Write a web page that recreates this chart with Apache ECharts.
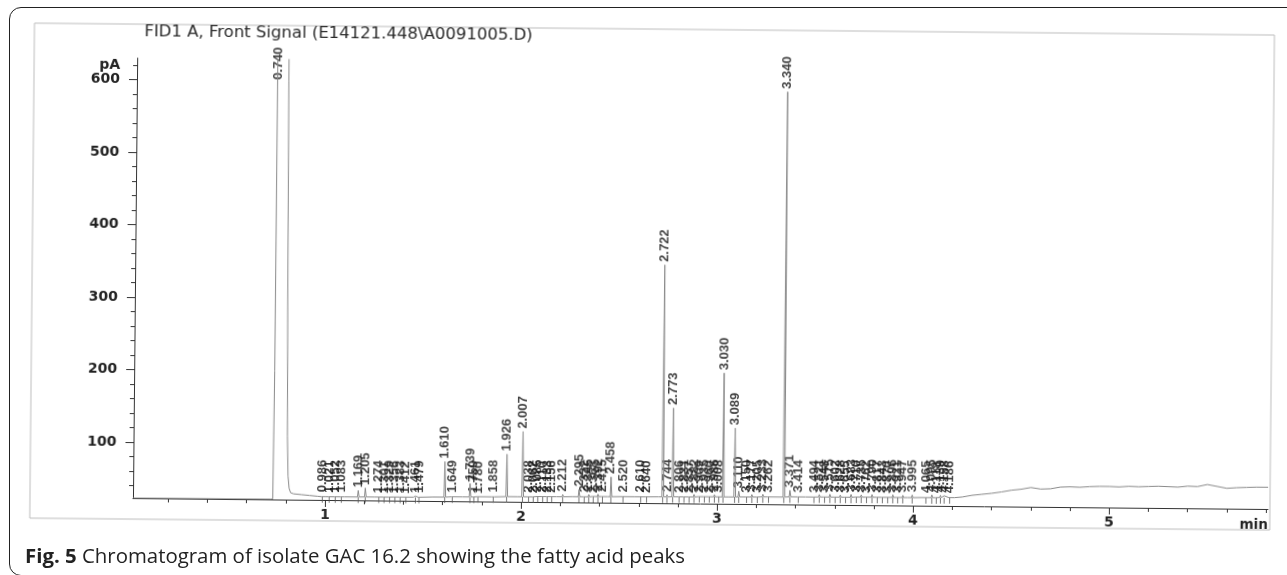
<!DOCTYPE html>
<html><head><meta charset="utf-8">
<script src="https://cdn.jsdelivr.net/npm/echarts@6/dist/echarts.min.js"></script>
<style>
html,body{margin:0;padding:0;background:#fff;width:1287px;height:575px;overflow:hidden;}
#chart{position:absolute;left:0;top:0;width:1287px;height:575px;transform:rotate(0.55deg);transform-origin:643.5px 287.5px;}
#border{position:absolute;left:9px;top:7px;width:1400px;height:567px;border:1.6px solid #222;border-radius:12px;pointer-events:none;}
#caption{position:absolute;left:25px;top:541px;font-family:"Open Sans";font-size:20.4px;color:#222;white-space:nowrap;}
#caption b{font-weight:700;}
</style></head><body>
<div id="chart"></div>
<div id="border"></div>
<div id="caption"><b>Fig. 5</b> Chromatogram of isolate GAC 16.2 showing the fatty acid peaks</div>
<script>
// ---- data ----
const titleText = 'FID1 A, Front Signal (E14121.448\\A0091005.D)';
const yUnit = 'pA';
const xUnit = 'min';
const yLabelValues = [100, 200, 300, 400, 500, 600];
const yMinorTicks = [40, 60, 80, 100, 120, 140, 160, 180, 200, 220, 240, 260, 280, 300, 320, 340, 360, 380, 400, 420, 440, 460, 480, 500, 520, 540, 560, 580, 600, 620];
const xLabelValues = [1, 2, 3, 4, 5];
const xMinorTicks = [0.2, 0.4, 0.6, 0.8, 1.0, 1.2, 1.4, 1.6, 1.8, 2.0, 2.2, 2.4, 2.6, 2.8, 3.0, 3.2, 3.4, 3.6, 3.8, 4.0, 4.2, 4.4, 4.6, 4.8, 5.0, 5.2, 5.4, 5.6, 5.8];

// solvent peak (off scale)
const solventLabelTime = 0.740;
const solventLabelTop = 598;
const solventTimes = [0.733, 0.737, 0.741, 0.787, 0.795, 0.800, 0.805, 0.810, 0.816, 0.824];
const solventValues = [23, 200, 2500, 2500, 600, 300, 110, 55, 38, 32];

// baseline trace between peaks
const baseTimes = [0.02, 0.72, 0.84, 0.88, 0.92, 0.96, 1.00, 1.10, 1.25, 1.45, 1.55, 1.70, 1.85, 1.98, 2.18, 2.26, 2.44, 2.58, 2.70, 2.79, 2.997, 3.06, 3.12, 3.29, 3.45, 3.589, 3.80, 3.97, 4.04, 4.21, 4.25, 4.30, 4.35, 4.40, 4.45, 4.50, 4.55, 4.60, 4.65, 4.70, 4.75, 4.80, 4.85, 4.90, 4.95, 5.00, 5.05, 5.10, 5.15, 5.20, 5.25, 5.30, 5.35, 5.40, 5.45, 5.50, 5.55, 5.60, 5.65, 5.70, 5.75, 5.81];
const baseValues = [22.5, 22.8, 30.5, 29.5, 28.5, 27.5, 27, 27, 27.2, 27.5, 28, 28.5, 29, 29.5, 30, 30.3, 30.8, 31, 31.2, 31.5, 32, 32, 32.2, 32.5, 33, 33.2, 33.5, 33.5, 33.7, 34, 35, 37.5, 39, 40.5, 42.5, 45, 46.5, 49, 47, 47.5, 50, 50.5, 50, 51, 51.5, 51.5, 51, 52, 51.5, 52, 52.5, 52, 51.5, 53, 52.5, 55.5, 53, 50.5, 51.5, 52, 52.5, 52.5];

// integrated peaks: retention time (min) and apex (pA)
const peakTimes = [0.986, 1.021, 1.052, 1.083, 1.169, 1.205, 1.274, 1.301, 1.329, 1.356, 1.383, 1.412, 1.461, 1.479, 1.610, 1.649, 1.739, 1.759, 1.780, 1.858, 1.926, 2.007, 2.038, 2.062, 2.085, 2.110, 2.133, 2.156, 2.212, 2.295, 2.322, 2.345, 2.368, 2.392, 2.415, 2.458, 2.520, 2.610, 2.640, 2.722, 2.744, 2.773, 2.806, 2.831, 2.857, 2.882, 2.909, 2.935, 2.960, 2.986, 3.008, 3.030, 3.089, 3.110, 3.150, 3.177, 3.205, 3.233, 3.262, 3.340, 3.371, 3.414, 3.494, 3.521, 3.548, 3.575, 3.602, 3.628, 3.655, 3.683, 3.710, 3.735, 3.762, 3.790, 3.817, 3.843, 3.870, 3.896, 3.921, 3.947, 3.995, 4.065, 4.095, 4.118, 4.139, 4.158, 4.186];
const peakHeights = [29, 28, 28.5, 29, 36, 39.5, 28.5, 28, 29, 28.5, 29, 28, 29, 29.5, 77, 30, 47, 30, 29, 31, 88, 119.5, 31, 30.5, 32, 31, 31.5, 31, 33, 40, 32, 33.5, 31.5, 34, 33, 58, 33, 33, 32, 351.5, 34, 154, 33, 34, 32.5, 35, 33, 34.5, 33, 35, 34, 203, 127, 40, 34, 35.5, 34, 36, 34.5, 592, 42, 35, 35, 36.5, 35, 37, 35.5, 36, 35, 37, 35.5, 36.5, 35, 37, 35.5, 36, 35, 37, 35.5, 36.5, 37, 36, 37.5, 36, 37, 36.5, 36];

// ---- build series ----
function nearestBase(t) {
  let bi = 0;
  for (let i = 1; i < baseTimes.length; i++) {
    if (Math.abs(baseTimes[i] - t) < Math.abs(baseTimes[bi] - t)) bi = i;
  }
  return baseValues[bi];
}
const trace = [];
baseTimes.forEach((t, i) => trace.push([t, baseValues[i]]));
solventTimes.forEach((t, i) => trace.push([t, solventValues[i]]));
const markers = [];
peakTimes.forEach((t, i) => {
  const b = nearestBase(t);
  trace.push([t - 0.004, b], [t, peakHeights[i]], [t + 0.005, b]);
  markers.push([t, b]);
});
trace.sort((a, b) => a[0] - b[0]);

const labelPts = [[solventLabelTime, solventLabelTop]].concat(peakTimes.map((t, i) => [t, peakHeights[i]]));

const chart = echarts.init(document.getElementById('chart'), null, {renderer: 'canvas'});
const axisColor = '#333';
chart.setOption({
  animation: false,
  backgroundColor: '#fff',
  title: {
    text: titleText, left: 142, top: 28, padding: 0,
    textStyle: {fontFamily: 'DejaVu Sans', fontSize: 16.5, fontWeight: 'normal', color: '#2a2a2a'}
  },
  graphic: [{
    type: 'rect', silent: true, z: -1,
    shape: {x: 32, y: 29, width: 1240, height: 495},
    style: {fill: 'none', stroke: '#bdbdbd', lineWidth: 1}
  }],
  grid: {left: 135, right: 17, top: 63, bottom: 72, containLabel: false, outerBoundsMode: 'none'},
  xAxis: [{
    type: 'value', min: 0.02, max: 5.81, position: 'bottom',
    axisLine: {show: true, lineStyle: {color: axisColor, width: 1}},
    axisTick: {show: true, customValues: xLabelValues, length: 7, lineStyle: {color: axisColor}},
    axisLabel: {show: true, customValues: xLabelValues, margin: 8, fontFamily: 'DejaVu Sans', fontWeight: 'bold', fontSize: 14, color: '#222'},
    splitLine: {show: false},
    name: xUnit, nameLocation: 'end', nameGap: 0,
    nameTextStyle: {fontFamily: 'DejaVu Sans', fontWeight: 'bold', fontSize: 13.5, color: '#222', align: 'right', verticalAlign: 'top', padding: [9, 0, 0, 0]}
  }, {
    type: 'value', min: 0.02, max: 5.81, position: 'bottom', offset: 0,
    axisLine: {show: false},
    axisTick: {show: true, customValues: xMinorTicks, length: 4, lineStyle: {color: axisColor}},
    axisLabel: {show: false},
    splitLine: {show: false}
  }],
  yAxis: [{
    type: 'value', min: 22.5, max: 630, position: 'left',
    axisLine: {show: true, lineStyle: {color: axisColor, width: 1}},
    axisTick: {show: true, customValues: yLabelValues, length: 8, lineStyle: {color: axisColor}},
    axisLabel: {
      show: true, customValues: yLabelValues.concat([620]), margin: 17,
      fontFamily: 'DejaVu Sans', fontWeight: 'bold', fontSize: 14, color: '#222',
      formatter: v => (v === 620 ? yUnit : String(v))
    },
    splitLine: {show: false}
  }, {
    type: 'value', min: 22.5, max: 630, position: 'left', offset: 0,
    axisLine: {show: false},
    axisTick: {show: true, customValues: yMinorTicks, length: 4, lineStyle: {color: axisColor}},
    axisLabel: {show: false},
    splitLine: {show: false}
  }],
  series: [{
    type: 'line', data: trace, xAxisIndex: 0, yAxisIndex: 0,
    showSymbol: false, symbol: 'none', clip: true, silent: true,
    lineStyle: {color: '#8a8a8a', width: 1}
  }, {
    type: 'scatter', data: markers, xAxisIndex: 0, yAxisIndex: 0,
    symbol: 'rect', symbolSize: [1, 6], symbolOffset: [0, 3], silent: true,
    itemStyle: {color: '#555'}
  }, {
    type: 'scatter', data: labelPts, xAxisIndex: 0, yAxisIndex: 0,
    symbolSize: 0, silent: true, clip: false,
    label: {
      show: true, position: 'top', distance: 3, rotate: 90, align: 'left', verticalAlign: 'middle',
      formatter: p => p.value[0].toFixed(3),
      fontFamily: 'Liberation Sans', fontWeight: 'bold', fontSize: 13, color: '#111'
    },
    labelLayout: {hideOverlap: false}
  }]
});
</script>
</body></html>
